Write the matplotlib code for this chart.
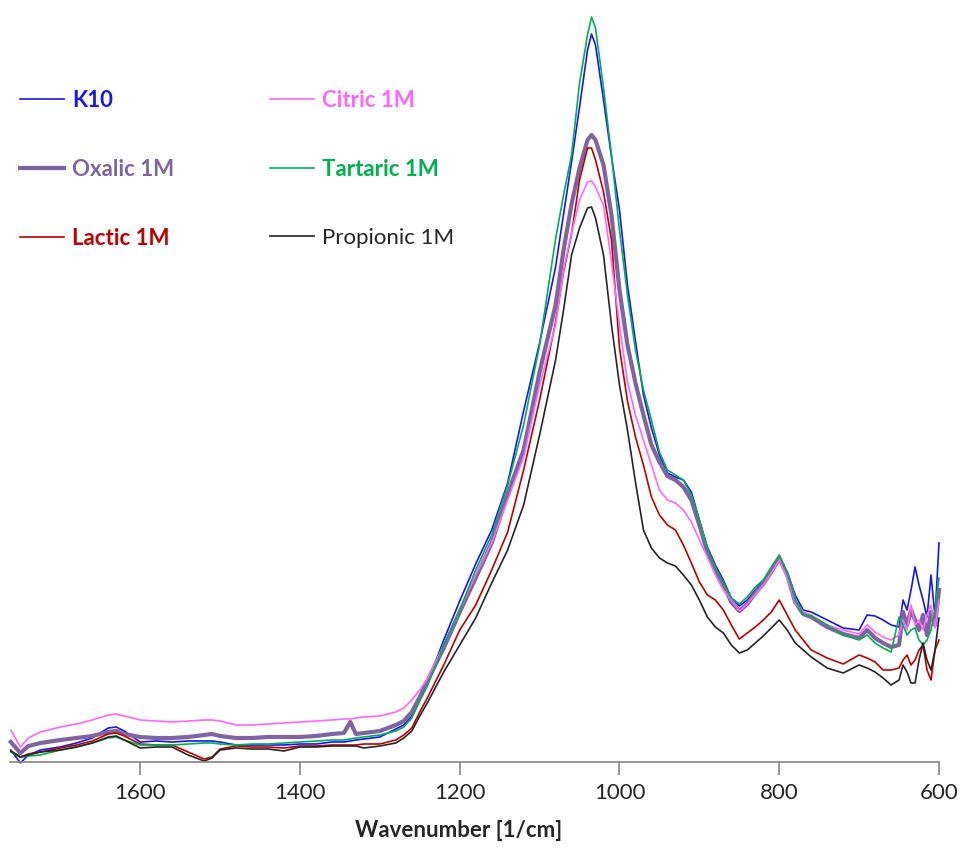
import matplotlib
matplotlib.use("Agg")
import matplotlib.pyplot as plt

plt.rcParams['font.family'] = ['Lato', 'DejaVu Sans']

wavenumber = [1762, 1750, 1740, 1725, 1700, 1680, 1660, 1640, 1630, 1620, 1600, 1580, 1560, 1540,
              1520, 1510, 1500, 1480, 1460, 1440, 1420, 1400, 1380, 1360, 1345, 1337, 1330, 1320,
              1300, 1280, 1270, 1260, 1250, 1240, 1220, 1200, 1180, 1160, 1140, 1120, 1100, 1080,
              1070, 1060, 1050, 1040, 1035, 1030, 1020, 1010, 1000, 990, 980, 970, 960, 950, 940,
              930, 920, 910, 900, 890, 880, 870, 860, 850, 840, 830, 820, 810, 800, 790, 780, 770,
              760, 740, 720, 700, 690, 680, 670, 660, 650, 645, 640, 635, 630, 625, 620, 615, 610,
              605, 600]

k10 = [12, -1, 7, 12, 15, 19, 24, 34, 35, 31, 20, 21, 20, 21, 21, 21, 20, 17, 17, 17, 17, 18, 18,
       20, 20, 21, 22, 23, 25, 33, 37, 46, 62, 80, 122, 161, 198, 232, 279, 351, 419, 495, 548, 600,
       655, 712, 728, 717, 662, 605, 552, 477, 421, 367, 334, 307, 289, 285, 282, 270, 242, 215, 197,
       182, 164, 156, 162, 172, 181, 192, 205, 190, 167, 152, 150, 142, 134, 132, 147, 146, 142, 137,
       135, 162, 152, 172, 195, 177, 162, 145, 187, 145, 219]

oxalic = [20, 9, 16, 19, 22, 24, 26, 30, 31, 28, 25, 24, 24, 25, 27, 28, 26, 24, 24, 25, 25, 25, 26,
          28, 29, 40, 28, 29, 31, 37, 41, 50, 65, 82, 114, 150, 184, 219, 268, 312, 390, 457, 512,
          558, 594, 622, 627, 622, 597, 547, 472, 417, 379, 347, 317, 300, 286, 282, 275, 262, 237,
          210, 192, 177, 160, 151, 158, 169, 178, 190, 204, 187, 160, 148, 145, 135, 128, 124, 132,
          124, 119, 115, 117, 150, 137, 152, 142, 132, 147, 127, 150, 137, 172]

lactic = [11, 5, 8, 10, 14, 17, 21, 28, 29, 26, 18, 17, 17, 10, 3, 5, 13, 16, 15, 15, 14, 16, 16, 17,
          17, 17, 17, 18, 18, 22, 27, 34, 50, 65, 97, 132, 157, 192, 230, 292, 362, 440, 490, 528,
          582, 614, 614, 602, 570, 522, 414, 361, 325, 297, 265, 247, 237, 232, 217, 199, 180, 167,
          162, 152, 137, 123, 129, 135, 142, 150, 162, 147, 132, 122, 112, 104, 98, 107, 104, 100, 92,
          92, 94, 102, 107, 97, 102, 112, 117, 92, 82, 112, 122]

citric = [32, 15, 24, 30, 35, 38, 42, 47, 48, 46, 42, 41, 40, 41, 42, 42, 41, 37, 37, 38, 39, 40, 41,
          42, 43, 43, 44, 45, 46, 50, 54, 62, 72, 84, 117, 152, 187, 219, 262, 305, 377, 437, 492,
          529, 562, 580, 581, 575, 557, 500, 437, 380, 347, 322, 297, 272, 262, 259, 252, 240, 222,
          205, 187, 172, 162, 151, 158, 168, 177, 189, 202, 184, 159, 150, 147, 137, 132, 128, 137,
          130, 125, 122, 127, 142, 132, 157, 137, 142, 132, 147, 157, 134, 162]

tartaric = [10, 5, 6, 7, 12, 15, 19, 24, 25, 22, 17, 17, 17, 18, 19, 19, 18, 17, 18, 18, 19, 20, 21,
            22, 22, 23, 24, 25, 27, 31, 35, 44, 61, 77, 117, 152, 192, 227, 277, 337, 417, 523, 567,
            607, 679, 727, 745, 734, 674, 607, 532, 467, 412, 372, 342, 310, 292, 287, 282, 267, 242,
            212, 194, 179, 164, 158, 165, 175, 182, 195, 207, 189, 162, 148, 146, 137, 127, 122, 127,
            119, 114, 110, 145, 137, 127, 132, 134, 122, 117, 122, 132, 152, 184]

propionic = [11, 5, 7, 10, 12, 15, 19, 25, 26, 22, 14, 15, 15, 7, 1, 4, 12, 14, 13, 13, 11, 15, 15,
             16, 16, 16, 16, 14, 16, 19, 24, 31, 46, 60, 90, 117, 144, 179, 212, 257, 327, 402, 452,
             507, 534, 554, 555, 544, 507, 437, 377, 332, 280, 232, 214, 204, 199, 196, 187, 177, 162,
             145, 135, 129, 117, 109, 112, 119, 126, 134, 142, 132, 119, 112, 105, 94, 89, 97, 94, 90,
             84, 77, 82, 97, 90, 79, 79, 102, 119, 102, 92, 112, 144]

series = [
    ("K10", k10, "#1515FF", 1.2, "bold"),
    ("Oxalic 1M", oxalic, "#8064A2", 3.0, "bold"),
    ("Lactic 1M", lactic, "#C00000", 1.2, "bold"),
    ("Citric 1M", citric, "#FF66FF", 1.2, "bold"),
    ("Tartaric 1M", tartaric, "#00B050", 1.2, "bold"),
    ("Propionic 1M", propionic, "#262626", 1.2, "normal"),
]
draw_order = [3, 0, 1, 4, 2, 5]

W, H = 960, 848
fig = plt.figure(figsize=(W / 100, H / 100), dpi=100)
ax = fig.add_axes([10 / W, (H - 762) / H, 929 / W, 750 / H])

handles = {}
for i in draw_order:
    name, vals, color, lw, _ = series[i]
    ln, = ax.plot(wavenumber, vals, color=color, lw=lw, label=name, clip_on=False, zorder=2 + i * 0.1)
    handles[i] = ln

ax.set_xlim(1763, 600)
ax.set_ylim(0, 750)
ax.set_xticks([1600, 1400, 1200, 1000, 800, 600])
ax.set_yticks([])
for s in ["top", "right", "left"]:
    ax.spines[s].set_visible(False)
ax.spines["bottom"].set_color("#868686")
ax.spines["bottom"].set_linewidth(1.2)
ax.tick_params(axis="x", direction="out", length=9, width=1.2, color="#868686",
               labelsize=16, labelcolor="#262626", pad=6)
ax.set_xlabel("Wavenumber [1/cm]", fontsize=16, fontweight="bold", color="#262626")
ax.xaxis.set_label_coords((459 - 10) / 929, -(820 - 762) / 750)

order = [0, 1, 2, 3, 4, 5]
leg = ax.legend([handles[i] for i in order], [series[i][0] for i in order],
                ncol=2, loc="upper left", bbox_to_anchor=((20 - 10) / 929, (762 - 90) / 750),
                frameon=False, fontsize=16, handlelength=2.0, handletextpad=0.35,
                labelspacing=2.15, columnspacing=4.3, borderaxespad=0, borderpad=0)
for txt, i in zip(leg.get_texts(), order):
    txt.set_color(series[i][2])
    txt.set_fontweight(series[i][4])

fig.savefig("out.png", dpi=100, facecolor="white")
